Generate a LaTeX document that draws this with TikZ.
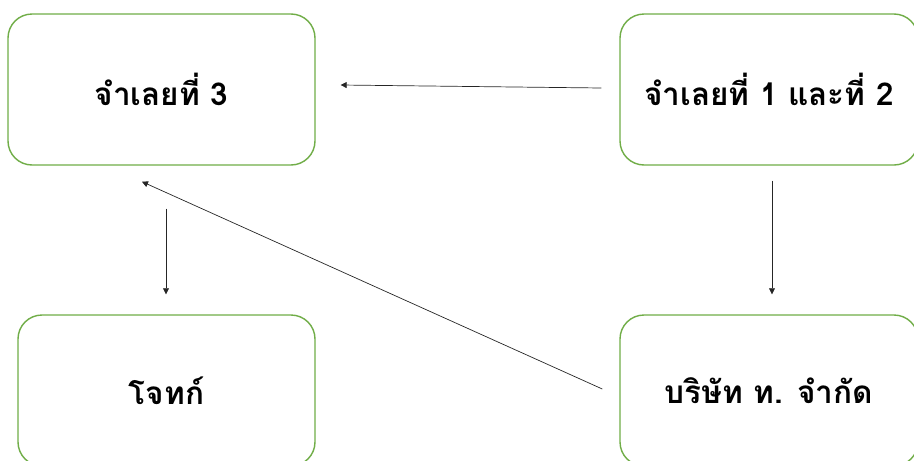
\documentclass[tikz,border=0pt]{standalone}
\usepackage{fontspec}
\newfontfamily\thaifont[Script=Thai]{Loma}
\usetikzlibrary{arrows.meta,calc}
\definecolor{boxgreen}{HTML}{70AD47}
\definecolor{arrowgray}{HTML}{262626}
\tikzset{
  party/.style={draw=boxgreen, line width=1.4pt, rounded corners=24pt,
    fill=white, align=center, inner sep=0pt,
    font=\thaifont\bfseries\fontsize{31.5}{36}\selectfont},
  topbox/.style={party, minimum width=307pt, minimum height=151pt},
  botbox/.style={party, minimum width=297pt, minimum height=151pt},
  sidebox/.style={party, minimum width=298pt, minimum height=151pt},
  link/.style={draw=arrowgray, line width=0.7pt,
    -{Triangle[length=6pt,width=6pt]}}
}
\begin{document}
\begin{tikzpicture}[x=1pt,y=-1pt]
  \useasboundingbox (0,0) rectangle (914,461);
  \clip (0,0) rectangle (914,461);
  % the four parties
  \node[topbox] (tl) at (161.5,89.5) {จำเลยที่ 3};
  \node[sidebox] (tr) at (769,89.5) {จำเลยที่ 1 และที่ 2};
  \node[botbox] (bl) at (166.5,390.5) {โจทก์};
  \node[sidebox] (br) at (769,390.5) {บริษัท ท. จำกัด};
  % relations between them
  \draw[link] ($(tr.west)+(-18,-1.5)$) -- ($(tl.east)+(25,-4.5)$);
  \draw[link] ($(tr.south)+(3,15)$) -- ($(br.north)+(3,-20)$);
  \draw[link] ($(tl.south)+(4.5,43)$) -- ($(bl.north)+(-0.5,-20)$);
  \draw[link] ($(br.west)+(-17,-1.5)$) -- ($(tl.south)+(-19.5,16)$);
\end{tikzpicture}
\end{document}
